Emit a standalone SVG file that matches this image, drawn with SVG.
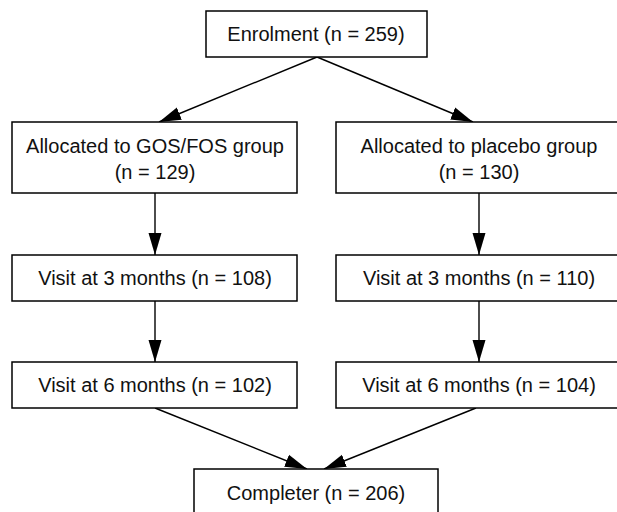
<svg xmlns="http://www.w3.org/2000/svg" width="617" height="512" viewBox="0 0 617 512">
<defs>
<style>
.box{fill:#fff;stroke:#000;stroke-width:1.5}
.lbl{font-family:"Liberation Sans",Arial,sans-serif;font-size:20px;fill:#111;text-anchor:middle}
.edge{stroke:#000;stroke-width:1.4;fill:none;marker-end:url(#ah)}
</style>
<marker id="ah" markerUnits="userSpaceOnUse" markerWidth="22" markerHeight="14" refX="22" refY="7" orient="auto">
<path d="M0,0.5 L22,7 L0,13.5 z" fill="#000"/>
</marker>
</defs>
<rect width="617" height="512" fill="#fff"/>
<g id="connectors">
<line class="edge" x1="317" y1="57" x2="159" y2="122"/>
<line class="edge" x1="317" y1="57" x2="473" y2="122"/>
<line class="edge" x1="155" y1="193" x2="155" y2="255"/>
<line class="edge" x1="479" y1="193" x2="479" y2="255"/>
<line class="edge" x1="155" y1="301" x2="155" y2="362"/>
<line class="edge" x1="479" y1="301" x2="479" y2="362"/>
<line class="edge" x1="155" y1="408" x2="307" y2="469"/>
<line class="edge" x1="476" y1="408" x2="324" y2="469"/>
</g>
<g id="enrolment">
<rect class="box" x="206" y="11" width="221" height="46"/>
<text class="lbl" x="316" y="41">Enrolment (n = 259)</text>
</g>
<g id="alloc-gos">
<rect class="box" x="12" y="122" width="285" height="71"/>
<text class="lbl" x="155" y="153">Allocated to GOS/FOS group</text>
<text class="lbl" x="155" y="179">(n = 129)</text>
</g>
<g id="alloc-placebo">
<rect class="box" x="336" y="122" width="287" height="71"/>
<text class="lbl" x="479" y="153">Allocated to placebo group</text>
<text class="lbl" x="479" y="179">(n = 130)</text>
</g>
<g id="visit3-gos">
<rect class="box" x="12" y="255" width="285" height="46"/>
<text class="lbl" x="155" y="285">Visit at 3 months (n = 108)</text>
</g>
<g id="visit3-placebo">
<rect class="box" x="336" y="255" width="287" height="46"/>
<text class="lbl" x="479" y="285">Visit at 3 months (n = 110)</text>
</g>
<g id="visit6-gos">
<rect class="box" x="12" y="362" width="285" height="46"/>
<text class="lbl" x="155" y="392">Visit at 6 months (n = 102)</text>
</g>
<g id="visit6-placebo">
<rect class="box" x="336" y="362" width="287" height="46"/>
<text class="lbl" x="479" y="392">Visit at 6 months (n = 104)</text>
</g>
<g id="completer">
<rect class="box" x="194" y="469" width="244" height="60"/>
<text class="lbl" x="316" y="500">Completer (n = 206)</text>
</g>
</svg>
